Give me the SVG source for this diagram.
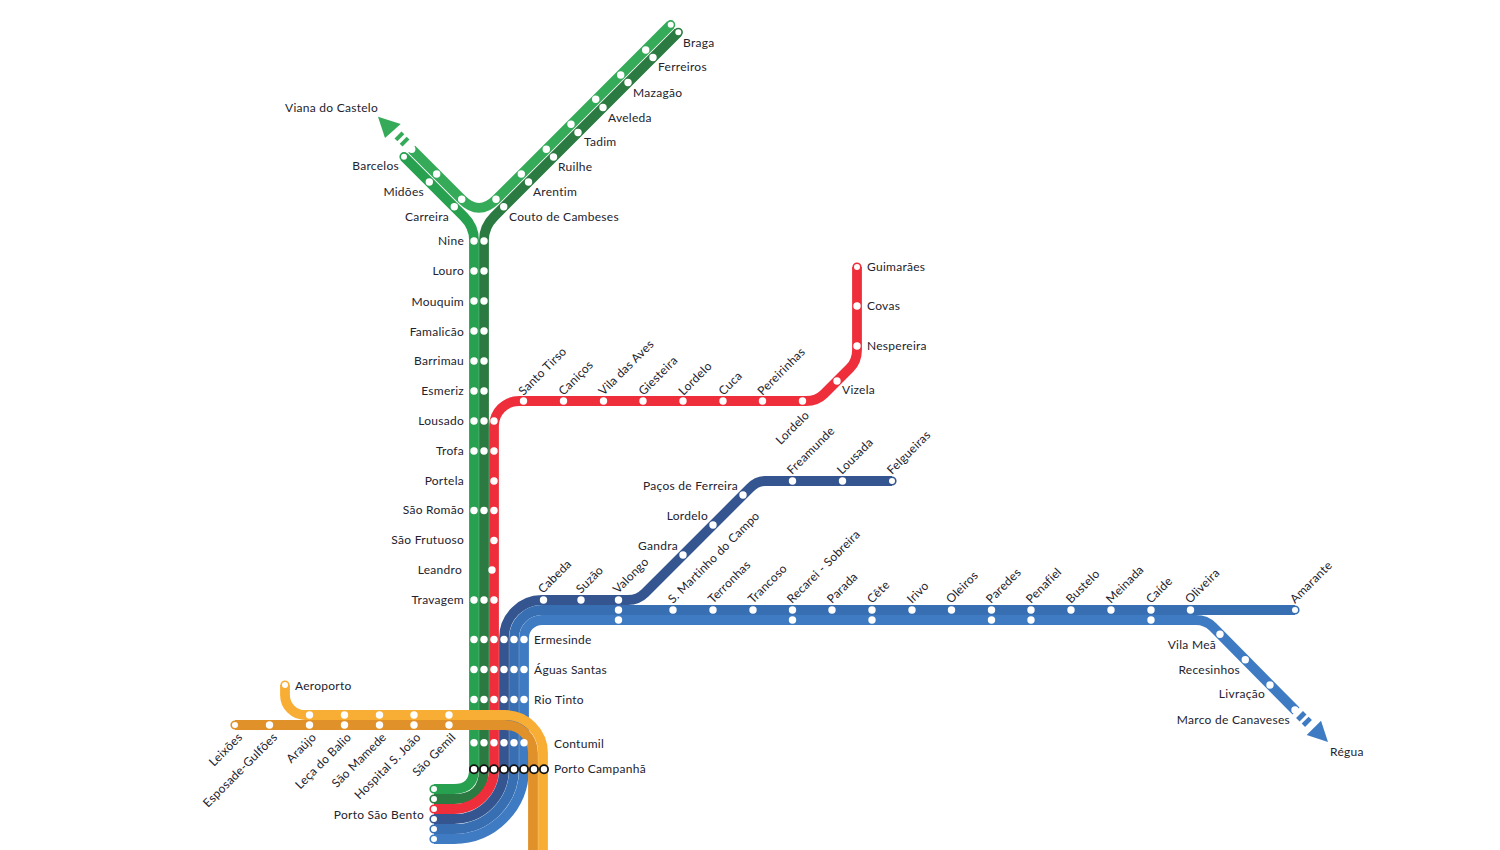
<svg xmlns="http://www.w3.org/2000/svg" width="1500" height="850" viewBox="0 0 1500 850">
<style>
text{font-family:"Lato","Open Sans","Liberation Sans",sans-serif;font-size:12px;fill:#23232e;letter-spacing:.27px}
.e{text-anchor:end}
.l{fill:none;stroke-width:9.8;stroke-linejoin:round}
.lg{stroke:#35ab5a}.mg{stroke:#27a04f}.dg{stroke:#2b7a41}.r{stroke:#ee2f3b}.n{stroke:#34558f}.b{stroke:#386fb3}.lb{stroke:#3f7bc2}.lo{stroke:#f8ae35}.do{stroke:#e0912a}
circle{fill:#fff}
.t{stroke-width:1.6}
.pc{stroke:#111;stroke-width:1.8}
</style>
<rect width="1500" height="850" fill="#fff"/>
<g id="connectors">
<path class="l lg" d="M411.7 149.3L461.7 199.3Q479 216.6 496.3 199.3L670.7 24.7"/>
<path class="l lg" d="M398 135L406 143" stroke-dasharray="4 3.3"/>
<polygon points="378,116.7 385,138 400.7,124" fill="#35ab5a"/>
<path class="l mg" d="M404 156.7L464 216.7Q474 226.7 474 240V769Q474 789 454 789H434"/>
<path class="l dg" d="M678.3 32.3L494 216.7Q484 226.7 484 240V769Q484 799 454 799H434"/>
<path class="l r" d="M857 267V350Q857 361 850 368L824 394Q817 401 806 401H519A25 25 0 0 0 494 426V769A40 40 0 0 1 454 809H434"/>
<path class="l n" d="M892 481H765Q757 481 750 488L645 593Q638 600 628 600H542A38 38 0 0 0 504 638V769A50 50 0 0 1 454 819H434"/>
<path class="l b" d="M1295 610H542A28 28 0 0 0 514 638V769A60 60 0 0 1 454 829H434"/>
<path class="l lb" d="M1296 711L1213 627Q1206 620 1196 620H542A18 18 0 0 0 524 638V769A70 70 0 0 1 454 839H434"/>
<path class="l lb" d="M1299.500 714.500L1308.500 723.500" stroke-dasharray="5 3"/>
<polygon points="1328,742 1306.7,735 1321,720.7" fill="#3f7bc2"/>
<path class="l do" d="M235 725H505A28 28 0 0 1 533 753V850"/>
<path class="l lo" d="M285 685V695A20 20 0 0 0 305 715H505A38 38 0 0 1 543 753V850"/>
</g>
<g id="stations">
<g id="braga"><circle class="t" stroke="#35ab5a" cx="670.7" cy="24.7" r="3.8"/><circle class="t" stroke="#2b7a41" cx="678.3" cy="32.3" r="3.8"/><text x="683" y="47">Braga</text></g>
<g id="ferreiros"><circle cx="645.7" cy="50" r="3.7"/><circle cx="653" cy="57.5" r="3.7"/><text x="658" y="71">Ferreiros</text></g>
<g id="mazagao"><circle cx="620.7" cy="75" r="3.7"/><circle cx="628" cy="82.5" r="3.7"/><text x="633" y="97">Mazagão</text></g>
<g id="aveleda"><circle cx="595.7" cy="99.3" r="3.7"/><circle cx="603" cy="107.5" r="3.7"/><text x="608" y="122">Aveleda</text></g>
<g id="tadim"><circle cx="571" cy="124.3" r="3.7"/><circle cx="578" cy="132.5" r="3.7"/><text x="584" y="146">Tadim</text></g>
<g id="ruilhe"><circle cx="546.3" cy="149.3" r="3.7"/><circle cx="553.5" cy="157" r="3.7"/><text x="558" y="171">Ruilhe</text></g>
<g id="arentim"><circle cx="521.3" cy="174" r="3.7"/><circle cx="528.5" cy="182" r="3.7"/><text x="533" y="196">Arentim</text></g>
<g id="couto"><circle cx="496" cy="199.3" r="3.7"/><circle cx="503.7" cy="206.7" r="3.7"/><text x="509" y="221">Couto de Cambeses</text></g>
<g id="viana"><text x="285" y="112">Viana do Castelo</text></g>
<g id="barcelos"><circle cx="411.7" cy="149.3" r="3.7"/><circle class="t" stroke="#27a04f" cx="404" cy="156.7" r="3.8"/><text class="e" x="399" y="170">Barcelos</text></g>
<g id="midoes"><circle cx="436.7" cy="174" r="3.7"/><circle cx="429.3" cy="182" r="3.7"/><text class="e" x="424" y="196">Midões</text></g>
<g id="carreira"><circle cx="461.7" cy="199.3" r="3.7"/><circle cx="454.3" cy="206.7" r="3.7"/><text class="e" x="449" y="221">Carreira</text></g>
<g id="nine"><circle cx="474" cy="241" r="3.7"/><circle cx="484" cy="241" r="3.7"/><text class="e" x="464" y="245">Nine</text></g>
<g id="louro"><circle cx="474" cy="271" r="3.7"/><circle cx="484" cy="271" r="3.7"/><text class="e" x="464" y="275">Louro</text></g>
<g id="mouquim"><circle cx="474" cy="301" r="3.7"/><circle cx="484" cy="301" r="3.7"/><text class="e" x="464" y="306">Mouquim</text></g>
<g id="famalicao"><circle cx="474" cy="331" r="3.7"/><circle cx="484" cy="331" r="3.7"/><text class="e" x="464" y="336">Famalicão</text></g>
<g id="barrimau"><circle cx="474" cy="361" r="3.7"/><circle cx="484" cy="361" r="3.7"/><text class="e" x="464" y="365">Barrimau</text></g>
<g id="esmeriz"><circle cx="474" cy="391" r="3.7"/><circle cx="484" cy="391" r="3.7"/><text class="e" x="464" y="395">Esmeriz</text></g>
<g id="lousado"><circle cx="474" cy="421" r="3.7"/><circle cx="484" cy="421" r="3.7"/><circle cx="494" cy="421" r="3.7"/><text class="e" x="464" y="425">Lousado</text></g>
<g id="trofa"><circle cx="474" cy="451" r="3.7"/><circle cx="484" cy="451" r="3.7"/><circle cx="494" cy="451" r="3.7"/><text class="e" x="464" y="455">Trofa</text></g>
<g id="portela"><circle cx="494" cy="481" r="3.7"/><text class="e" x="464" y="485">Portela</text></g>
<g id="sao-romao"><circle cx="474" cy="510.500" r="3.7"/><circle cx="484" cy="510.500" r="3.7"/><circle cx="494" cy="510.500" r="3.7"/><text class="e" x="464" y="514">São Romão</text></g>
<g id="sao-frutuoso"><circle cx="494" cy="540.500" r="3.7"/><text class="e" x="464" y="544">São Frutuoso</text></g>
<g id="leandro"><circle cx="492" cy="570" r="3.7"/><text class="e" x="462" y="574">Leandro</text></g>
<g id="travagem"><circle cx="474" cy="600" r="3.7"/><circle cx="484" cy="600" r="3.7"/><circle cx="494" cy="600" r="3.7"/><text class="e" x="464" y="604">Travagem</text></g>
<g id="ermesinde"><circle cx="474" cy="639.500" r="3.7"/><circle cx="484" cy="639.500" r="3.7"/><circle cx="494" cy="639.500" r="3.7"/><circle cx="504" cy="639.500" r="3.7"/><circle cx="514" cy="639.500" r="3.7"/><circle cx="524" cy="639.500" r="3.7"/><text x="534" y="644">Ermesinde</text></g>
<g id="aguas-santas"><circle cx="474" cy="669.500" r="3.7"/><circle cx="484" cy="669.500" r="3.7"/><circle cx="494" cy="669.500" r="3.7"/><circle cx="504" cy="669.500" r="3.7"/><circle cx="514" cy="669.500" r="3.7"/><circle cx="524" cy="669.500" r="3.7"/><text x="534" y="674">Águas Santas</text></g>
<g id="rio-tinto"><circle cx="474" cy="699.500" r="3.7"/><circle cx="484" cy="699.500" r="3.7"/><circle cx="494" cy="699.500" r="3.7"/><circle cx="504" cy="699.500" r="3.7"/><circle cx="514" cy="699.500" r="3.7"/><circle cx="524" cy="699.500" r="3.7"/><text x="534" y="704">Rio Tinto</text></g>
<g id="contumil"><circle cx="474" cy="742.700" r="3.7"/><circle cx="484" cy="742.700" r="3.7"/><circle cx="494" cy="742.700" r="3.7"/><circle cx="504" cy="742.700" r="3.7"/><circle cx="514" cy="742.700" r="3.7"/><circle cx="524" cy="742.700" r="3.7"/><text x="554" y="748">Contumil</text></g>
<g id="porto-campanha"><circle class="pc" cx="474" cy="769.300" r="4.1"/><circle class="pc" cx="484" cy="769.300" r="4.1"/><circle class="pc" cx="494" cy="769.300" r="4.1"/><circle class="pc" cx="504" cy="769.300" r="4.1"/><circle class="pc" cx="514" cy="769.300" r="4.1"/><circle class="pc" cx="524" cy="769.300" r="4.1"/><circle class="pc" cx="534" cy="769.300" r="4.1"/><circle class="pc" cx="544" cy="769.300" r="4.1"/><text x="554" y="773">Porto Campanhã</text></g>
<g id="porto-sao-bento"><circle class="t" stroke="#27a04f" cx="434" cy="789" r="3.8"/><circle class="t" stroke="#2b7a41" cx="434" cy="799" r="3.8"/><circle class="t" stroke="#ee2f3b" cx="434" cy="809" r="3.8"/><circle class="t" stroke="#34558f" cx="434" cy="819" r="3.8"/><circle class="t" stroke="#386fb3" cx="434" cy="829" r="3.8"/><circle class="t" stroke="#3f7bc2" cx="434" cy="839" r="3.8"/><text class="e" x="424" y="819">Porto São Bento</text></g>
<g id="aeroporto"><circle class="t" stroke="#f8ae35" cx="285" cy="685" r="3.8"/><text x="295" y="690">Aeroporto</text></g>
<g id="leixoes"><circle class="t" stroke="#e0912a" cx="235" cy="725" r="3.8"/><text class="e" transform="translate(243 738) rotate(-45)">Leixões</text></g>
<g id="esposade"><circle cx="269.500" cy="725" r="3.7"/><text class="e" transform="translate(278 738) rotate(-45)">Esposade-Gulfões</text></g>
<g id="araujo"><circle cx="309.500" cy="715" r="3.7"/><circle cx="309.500" cy="725" r="3.7"/><text class="e" transform="translate(317 738) rotate(-45)">Araújo</text></g>
<g id="leca"><circle cx="344.500" cy="715" r="3.7"/><circle cx="344.500" cy="725" r="3.7"/><text class="e" transform="translate(352 738) rotate(-45)">Leça do Balio</text></g>
<g id="sao-mamede"><circle cx="379.500" cy="715" r="3.7"/><circle cx="379.500" cy="725" r="3.7"/><text class="e" transform="translate(387 738) rotate(-45)">São Mamede</text></g>
<g id="hospital"><circle cx="414" cy="715" r="3.7"/><circle cx="414" cy="725" r="3.7"/><text class="e" transform="translate(421.500 738) rotate(-45)">Hospital S. João</text></g>
<g id="sao-gemil"><circle cx="449" cy="715" r="3.7"/><circle cx="449" cy="725" r="3.7"/><text class="e" transform="translate(456.500 738) rotate(-45)">São Gemil</text></g>
<g id="santo-tirso"><circle cx="523.5" cy="401" r="3.7"/><text transform="translate(523.500 396) rotate(-45)">Santo Tirso</text></g>
<g id="canicos"><circle cx="563.500" cy="401" r="3.7"/><text transform="translate(563.500 396) rotate(-45)">Caniços</text></g>
<g id="vila-das-aves"><circle cx="603.500" cy="401" r="3.7"/><text transform="translate(603.500 396) rotate(-45)">Vila das Aves</text></g>
<g id="giesteira"><circle cx="643" cy="401" r="3.7"/><text transform="translate(643.500 396) rotate(-45)">Giesteira</text></g>
<g id="lordelo-r"><circle cx="683" cy="401" r="3.7"/><text transform="translate(683.500 396) rotate(-45)">Lordelo</text></g>
<g id="cuca"><circle cx="723" cy="401" r="3.7"/><text transform="translate(723.500 396) rotate(-45)">Cuca</text></g>
<g id="pereirinhas"><circle cx="762.500" cy="401" r="3.7"/><text transform="translate(762.500 396) rotate(-45)">Pereirinhas</text></g>
<g id="lordelo-r2"><circle cx="802.500" cy="401" r="3.7"/><text class="e" transform="translate(810 416) rotate(-45)">Lordelo</text></g>
<g id="vizela"><circle cx="837" cy="381" r="3.7"/><text x="842" y="394">Vizela</text></g>
<g id="nespereira"><circle cx="857" cy="346" r="3.7"/><text x="867" y="350">Nespereira</text></g>
<g id="covas"><circle cx="857" cy="306" r="3.7"/><text x="867" y="310">Covas</text></g>
<g id="guimaraes"><circle class="t" stroke="#ee2f3b" cx="857" cy="267" r="3.8"/><text x="867" y="271">Guimarães</text></g>
<g id="cabeda"><circle cx="543.500" cy="600" r="3.7"/><text transform="translate(543 594) rotate(-45)">Cabeda</text></g>
<g id="suzao"><circle cx="581" cy="600" r="3.7"/><text transform="translate(581 594) rotate(-45)">Suzão</text></g>
<g id="valongo"><circle cx="618.500" cy="600" r="3.7"/><circle cx="618.500" cy="610" r="3.7"/><circle cx="618.500" cy="620" r="3.7"/><text transform="translate(618 594) rotate(-45)">Valongo</text></g>
<g id="gandra"><circle cx="683" cy="555" r="3.7"/><text class="e" x="678" y="550">Gandra</text></g>
<g id="lordelo-n"><circle cx="713" cy="525" r="3.7"/><text class="e" x="708" y="520">Lordelo</text></g>
<g id="pacos"><circle cx="743" cy="495" r="3.7"/><text class="e" x="738" y="490">Paços de Ferreira</text></g>
<g id="freamunde"><circle cx="792.500" cy="481" r="3.7"/><text transform="translate(792 475) rotate(-45)">Freamunde</text></g>
<g id="lousada"><circle cx="842.500" cy="481" r="3.7"/><text transform="translate(842 475) rotate(-45)">Lousada</text></g>
<g id="felgueiras"><circle class="t" stroke="#34558f" cx="892" cy="481" r="3.8"/><text transform="translate(892 475) rotate(-45)">Felgueiras</text></g>
<g id="s-martinho"><circle cx="673" cy="610" r="3.7"/><text transform="translate(673 604) rotate(-45)">S. Martinho do Campo</text></g>
<g id="terronhas"><circle cx="713" cy="610" r="3.7"/><text transform="translate(713 604) rotate(-45)">Terronhas</text></g>
<g id="trancoso"><circle cx="753" cy="610" r="3.7"/><text transform="translate(753 604) rotate(-45)">Trancoso</text></g>
<g id="recarei"><circle cx="792.500" cy="610" r="3.7"/><circle cx="792.500" cy="620" r="3.7"/><text transform="translate(792 604) rotate(-45)">Recarei - Sobreira</text></g>
<g id="parada"><circle cx="832" cy="610" r="3.7"/><text transform="translate(832 604) rotate(-45)">Parada</text></g>
<g id="cete"><circle cx="872" cy="610" r="3.7"/><circle cx="872" cy="620" r="3.7"/><text transform="translate(872 604) rotate(-45)">Cête</text></g>
<g id="irivo"><circle cx="912" cy="610" r="3.7"/><text transform="translate(912 604) rotate(-45)">Irivo</text></g>
<g id="oleiros"><circle cx="951.500" cy="610" r="3.7"/><text transform="translate(951 604) rotate(-45)">Oleiros</text></g>
<g id="paredes"><circle cx="991.500" cy="610" r="3.7"/><circle cx="991.500" cy="620" r="3.7"/><text transform="translate(991 604) rotate(-45)">Paredes</text></g>
<g id="penafiel"><circle cx="1031" cy="610" r="3.7"/><circle cx="1031" cy="620" r="3.7"/><text transform="translate(1031 604) rotate(-45)">Penafiel</text></g>
<g id="bustelo"><circle cx="1071" cy="610" r="3.7"/><text transform="translate(1071 604) rotate(-45)">Bustelo</text></g>
<g id="meinada"><circle cx="1111" cy="610" r="3.7"/><text transform="translate(1111 604) rotate(-45)">Meinada</text></g>
<g id="caide"><circle cx="1151" cy="610" r="3.7"/><circle cx="1151" cy="620" r="3.7"/><text transform="translate(1151 604) rotate(-45)">Caíde</text></g>
<g id="oliveira"><circle cx="1190.500" cy="610" r="3.7"/><text transform="translate(1190 604) rotate(-45)">Oliveira</text></g>
<g id="amarante"><circle class="t" stroke="#386fb3" cx="1295" cy="610" r="3.8"/><text transform="translate(1295 604) rotate(-45)">Amarante</text></g>
<g id="vila-mea"><circle cx="1220" cy="634.300" r="3.7"/><text class="e" x="1216" y="649">Vila Meã</text></g>
<g id="recesinhos"><circle cx="1245.300" cy="659.700" r="3.7"/><text class="e" x="1240" y="674">Recesinhos</text></g>
<g id="livracao"><circle cx="1270" cy="685" r="3.7"/><text class="e" x="1265" y="698">Livração</text></g>
<g id="marco"><circle cx="1295" cy="710" r="3.7"/><text class="e" x="1290" y="724">Marco de Canaveses</text></g>
<g id="regua"><text x="1330" y="756">Régua</text></g>
</g>
</svg>
